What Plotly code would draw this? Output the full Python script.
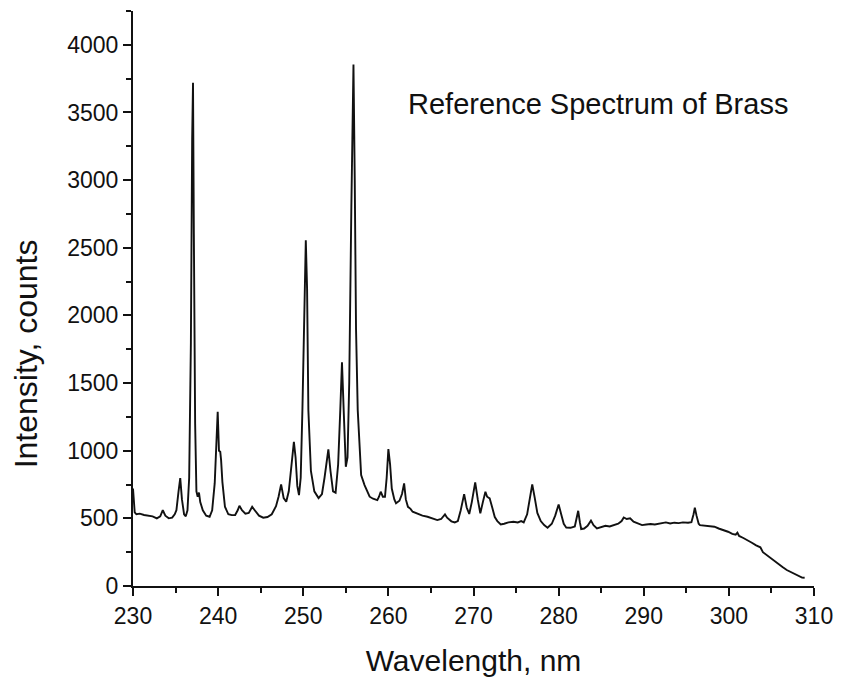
import plotly.graph_objects as go

# Emission spectrum of brass: wavelength (nm) and detector counts
wavelength = [
    230.0, 230.1, 230.2, 230.4, 230.8, 231.3, 231.8, 232.3, 232.8, 233.2,
    233.5, 233.8, 234.2, 234.6, 234.9, 235.1, 235.35, 235.55, 235.75, 236.0,
    236.2, 236.4, 236.6, 236.8, 236.95, 237.05, 237.15, 237.3, 237.45, 237.6,
    237.75, 237.9, 238.2, 238.6, 239.0, 239.3, 239.6, 239.8, 239.95, 240.1,
    240.25, 240.35, 240.5, 240.8, 241.2, 241.6, 242.0, 242.3, 242.5, 242.8,
    243.2, 243.6, 244.0, 244.3, 244.8, 245.3, 245.8, 246.3, 246.8, 247.1,
    247.4, 247.7, 248.0, 248.3, 248.6, 248.9, 249.1, 249.3, 249.5, 249.7,
    249.9, 250.1, 250.3, 250.45, 250.6, 250.9, 251.3, 251.8, 252.2, 252.5,
    252.95, 253.2, 253.5, 253.8, 254.1, 254.35, 254.55, 254.75, 255.0, 255.2,
    255.4, 255.65, 255.9, 256.05, 256.2, 256.4, 256.6, 256.8, 257.2, 257.5,
    257.8, 258.2, 258.7, 258.9, 259.1, 259.35, 259.6, 259.8, 260.0, 260.2,
    260.4, 260.7, 260.9, 261.3, 261.6, 261.85, 262.05, 262.3, 262.6, 262.85,
    263.2, 263.6, 264.0, 264.6, 265.2, 265.75, 266.2, 266.65, 266.9, 267.4,
    267.8, 268.16, 268.5, 268.9, 269.2, 269.5, 269.8, 270.2, 270.5, 270.8,
    271.1, 271.4, 271.6, 271.9, 272.2, 272.5, 272.8, 273.2, 273.6, 274.1,
    274.7, 275.2, 275.6, 275.9, 276.3, 276.6, 276.9, 277.2, 277.5, 277.9,
    278.3, 278.7, 279.2, 279.6, 280.0, 280.3, 280.6, 280.9, 281.4, 281.9,
    282.1, 282.3, 282.5, 282.65, 283.0, 283.4, 283.8, 284.1, 284.5, 285.0,
    285.5, 286.0, 286.5, 287.0, 287.4, 287.65, 288.0, 288.4, 288.8, 289.3,
    289.8, 290.3, 290.8, 291.3, 291.8, 292.1, 292.6, 293.1, 293.6, 294.1,
    294.6, 295.2, 295.6, 295.85, 296.0, 296.2, 296.45, 296.6, 297.0, 297.5,
    298.0, 298.3, 298.8, 299.3, 299.9, 300.4, 300.8, 301.0, 301.2, 301.7,
    302.2, 302.7, 303.2, 303.5, 303.7, 304.0, 304.5, 305.0, 305.3, 305.8,
    306.3, 306.8, 307.2, 307.7, 308.2, 308.6, 308.9,
]
counts = [
    720, 600, 545, 530, 535, 525, 520, 515, 500, 515,
    560, 520, 500, 505, 530, 560, 700, 797, 640, 530,
    515, 560, 800, 1800, 3300, 3720, 2600, 1200, 700, 660,
    690, 620, 560, 520, 512, 560, 760, 1004, 1287, 1000,
    992, 930, 770, 586, 530, 524, 525, 560, 593, 560,
    535, 540, 585, 560, 520, 505, 510, 530, 590, 660,
    751, 650, 623, 700, 900, 1066, 950, 740, 672, 800,
    1300, 2100, 2555, 2200, 1300, 850, 700, 650, 680, 800,
    1010, 850, 700, 690, 900, 1300, 1654, 1300, 881, 950,
    1500, 2800, 3855, 3000, 1900, 1300, 1004, 820, 746, 700,
    660, 645, 635, 660, 697, 660, 660, 800, 1012, 900,
    720, 640, 611, 630, 680, 758, 640, 585, 570, 549,
    540, 530, 520, 512, 500, 487, 495, 529, 505, 478,
    470, 480, 560, 679, 580, 532, 620, 766, 640, 537,
    620, 697, 660, 648, 580, 510, 480, 455, 460, 470,
    475, 470, 480, 470, 530, 640, 751, 650, 540, 480,
    450, 431, 460, 520, 603, 530, 460, 431, 430, 440,
    500, 556, 470, 421, 425, 445, 483, 450, 426, 435,
    445, 440, 450, 460, 480, 507, 495, 500, 475, 460,
    450, 455, 458, 455, 462, 463, 470, 462, 468, 465,
    470, 468, 472, 530, 578, 520, 460, 450, 448, 445,
    440, 438, 425, 415, 401, 385, 380, 394, 370, 355,
    340, 320, 300, 290, 286, 250, 225, 205, 192, 165,
    140, 118, 106, 85, 70, 62, 61,
]

x_ticks = [230, 240, 250, 260, 270, 280, 290, 300, 310]
y_ticks = [0, 500, 1000, 1500, 2000, 2500, 3000, 3500, 4000]

FONT = "Liberation Sans, Arial, sans-serif"
INK = "#111111"

fig = go.Figure(
    go.Scatter(
        x=wavelength,
        y=counts,
        mode="lines",
        line=dict(color=INK, width=1.9),
        hoverinfo="x+y",
    )
)

axis_common = dict(
    showgrid=False,
    zeroline=False,
    showline=True,
    linecolor=INK,
    linewidth=2,
    ticks="outside",
    ticklen=8,
    tickwidth=2,
    tickcolor=INK,
    tickfont=dict(family=FONT, size=23, color=INK),
    mirror=False,
)

fig.update_layout(
    width=844,
    height=687,
    margin=dict(l=133, r=23, t=11, b=101),
    paper_bgcolor="white",
    plot_bgcolor="white",
    showlegend=False,
    font=dict(family=FONT, color=INK),
    xaxis=dict(
        **axis_common,
        range=[230, 310],
        tickmode="array",
        tickvals=x_ticks,
        ticktext=[str(v) for v in x_ticks],
        minor=dict(ticks="outside", ticklen=5, tickwidth=2, tickcolor=INK, dtick=5, tick0=230),
        title=dict(text="Wavelength, nm", font=dict(family=FONT, size=30, color=INK), standoff=22),
    ),
    yaxis=dict(
        **axis_common,
        range=[0, 4250],
        tickmode="array",
        tickvals=y_ticks,
        ticktext=[str(v) for v in y_ticks],
        minor=dict(ticks="outside", ticklen=5, tickwidth=2, tickcolor=INK, dtick=250, tick0=0),
    ),
    annotations=[
        dict(
            text="Reference Spectrum of Brass",
            xref="paper",
            yref="paper",
            x=0.683,
            y=0.838,
            xanchor="center",
            yanchor="middle",
            showarrow=False,
            font=dict(family=FONT, size=29, color=INK),
        ),
        dict(
            text="Intensity, counts",
            xref="paper",
            yref="paper",
            x=-0.157,
            y=0.403,
            xanchor="center",
            yanchor="middle",
            textangle=-90,
            showarrow=False,
            font=dict(family=FONT, size=32, color=INK),
        ),
    ],
)

fig.write_html("out.html")
